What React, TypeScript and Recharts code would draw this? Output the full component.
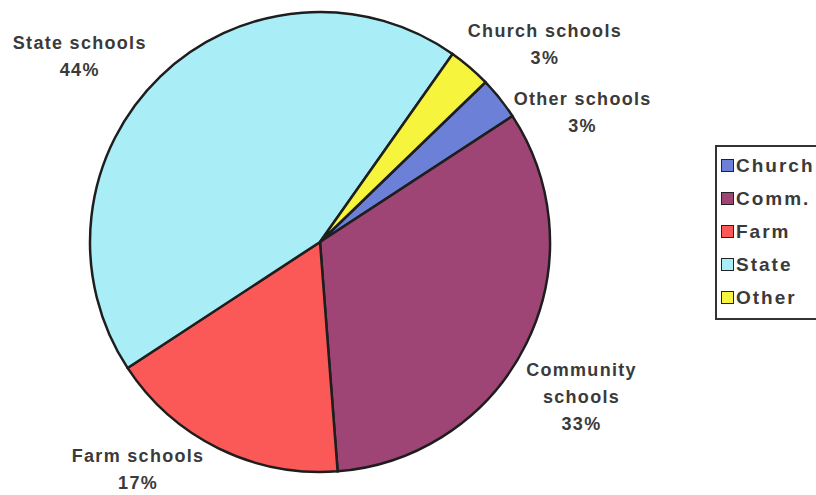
import { PieChart, Pie, Cell, Legend } from "recharts";

const legendNames = ["Church", "Comm.", "Farm", "State", "Other"];
const labelLines = [
  ["Other schools"],
  ["Community", "schools"],
  ["Farm schools"],
  ["State schools"],
  ["Church schools"],
];
const shares = [3, 33, 17, 44, 3];
const sliceColors = ["#6b80d6", "#9e4575", "#fb5858", "#a9eef6", "#f6f43c"];

// Excel labels were dragged by hand, so nudge each from its radial anchor
const labelNudge = [
  [61, 31],
  [30, 41],
  [-68, -4],
  [-61, 0],
  [57, -2],
];

const data = legendNames.map((name, i) => ({
  name,
  value: shares[i],
}));

const RAD = Math.PI / 180;
const textStyle = {
  fontFamily: "Arial, 'Liberation Sans', sans-serif",
  fontWeight: 700,
  fontSize: 18,
  letterSpacing: 1.3,
  fill: "#3a3a3a",
};

function SliceLabel(props: any) {
  const { cx, cy, midAngle, outerRadius, index, percent } = props;
  const r = outerRadius + 28;
  const ax = cx + r * Math.cos(-midAngle * RAD);
  const ay = cy + r * Math.sin(-midAngle * RAD);
  const [dx, dy] = labelNudge[index];
  const lines = [...labelLines[index], `${Math.round(percent * 100)}%`];
  const lh = 27;
  const top = ay + dy - ((lines.length - 1) * lh) / 2;
  return (
    <text x={ax + dx} y={top} textAnchor="middle" dominantBaseline="central" style={textStyle}>
      {lines.map((l, k) => (
        <tspan key={k} x={ax + dx} y={top + k * lh}>
          {l}
        </tspan>
      ))}
    </text>
  );
}

function LegendBox() {
  return (
    <div
      style={{
        border: "2px solid #333",
        width: 130,
        padding: "2px 0 4px 4px",
        background: "#fff",
        fontFamily: "Arial, 'Liberation Sans', sans-serif",
        fontWeight: 700,
        fontSize: 19,
        letterSpacing: 2,
        color: "#3a3a3a",
      }}
    >
      {legendNames.map((n, i) => (
        <div key={n} style={{ display: "flex", alignItems: "center", height: 33 }}>
          <span
            style={{
              display: "inline-block",
              width: 11,
              height: 11,
              border: "1.5px solid #222",
              background: sliceColors[i],
              marginRight: 2,
            }}
          />
          {n}
        </div>
      ))}
    </div>
  );
}

export default function App() {
  return (
    <div style={{ position: "absolute", left: 0, top: 0, width: 816, height: 495, background: "#fff", overflow: "hidden" }}>
      <PieChart width={816} height={495} margin={{ top: 0, right: 0, bottom: 0, left: 0 }}>
        <Pie
          data={data}
          dataKey="value"
          nameKey="name"
          cx={320}
          cy={242}
          outerRadius={230}
          startAngle={44}
          endAngle={-316}
          stroke="#1e1e1e"
          strokeWidth={2.5}
          label={SliceLabel}
          labelLine={false}
          isAnimationActive={false}
        >
          {data.map((d, i) => (
            <Cell key={d.name} fill={sliceColors[i]} />
          ))}
        </Pie>
        <Legend
          content={() => <LegendBox />}
          wrapperStyle={{ left: 715, top: 145, width: 140 }}
        />
      </PieChart>
    </div>
  );
}
